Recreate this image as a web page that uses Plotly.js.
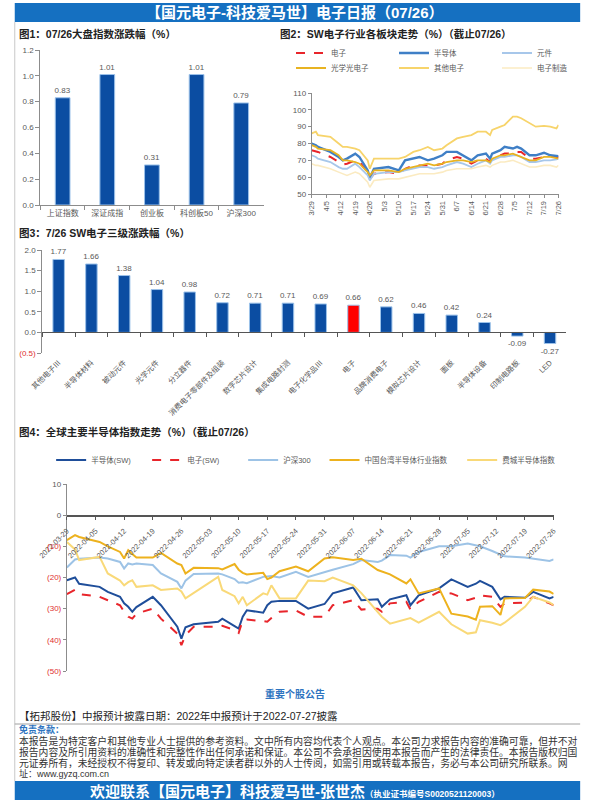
<!DOCTYPE html>
<html><head><meta charset="utf-8">
<script src="https://cdn.plot.ly/plotly-3.0.1.min.js"></script>
<style>html,body{margin:0;padding:0;background:#fff;} #chart{width:600px;height:800px;}</style>
</head><body><div id="chart"></div>
<script>
// ---------- DATA ----------
const fig1Categories = ['上证指数','深证成指','创业板','科创板50','沪深300'];
const fig1Values = [0.83, 1.01, 0.31, 1.01, 0.79];

const fig2Dates = ['2022-03-29','2022-03-31','2022-04-01','2022-04-07','2022-04-11','2022-04-13','2022-04-15','2022-04-19','2022-04-21','2022-04-25','2022-04-26','2022-04-28','2022-05-05','2022-05-10','2022-05-13','2022-05-17','2022-05-20','2022-05-24','2022-05-27','2022-05-31','2022-06-02','2022-06-07','2022-06-10','2022-06-14','2022-06-17','2022-06-21','2022-06-23','2022-06-24','2022-06-28','2022-06-30','2022-07-04','2022-07-06','2022-07-08','2022-07-12','2022-07-15','2022-07-19','2022-07-22','2022-07-25','2022-07-26'];
const fig2Names = ['电子','半导体','元件','光学光电子','其他电子','电子制造'];
const fig2Electronics = [76,75.5,75,72,69,67.5,68,70,69,63,59,62,63,62,65,67,67,67,67,68,70,72,71,68,70,71,69,71,73,74,74,75,75,71,71,72,72,72,72];
const fig2Semis = [80,79,78,75,72,70,71,74,72,64,59.5,65,66,64,70,71,72,70,71,73,75,75,73,70,73,74,71,74,76,78,77,78,77,73,73,74.5,73,72.5,72.5];
const fig2Components = [73,72,71,69,66,65,65,68,66,61,58,62,63,63,64,65,66,66,65,66,67,69,68,66,68,70,68,70,72,72,73,73,72,69,69,70,70,70.5,71];
const fig2Optical = [79,78,77,76,73,70,70,69,68,63,61,64,64,63,65,66,67,68,67,68,69,70,70,69,70,70,69,71,73,73,74,73,72,70,70,72,72,71,71];
const fig2Other = [86,87,85,84,80,78,78,77,76,70,65,71,71,71,72,75,76,78,76,77,79,83,84,85,87,87,85,88,90,91,96,96,95,92,90,90.5,90,89,91];
const fig2Manufacturing = [68,67,67,65,63,62,61,63,62,57,54,58,59,59,60,61,62,62,62,63,64,65,65,65,66,67,66,67,69,69,70,69,68,66,66,67,67,66,67];

const fig3Categories = ['其他电子Ⅲ','半导体材料','被动元件','光学元件','分立器件','消费电子零部件及组装','数字芯片设计','集成电路封测','电子化学品Ⅲ','电子','品牌消费电子','模拟芯片设计','面板','半导体设备','印制电路板','LED'];
const fig3Values = [1.77,1.66,1.38,1.04,0.98,0.72,0.71,0.71,0.69,0.66,0.62,0.46,0.42,0.24,-0.09,-0.27];
const fig3TickVals = [-0.5,0,0.5,1.0,1.5,2.0];
const fig3TickLabels = ['(0.5)','0.0','0.5','1.0','1.5','2.0'];

const fig4Dates = ['2022-03-29','2022-03-31','2022-04-01','2022-04-06','2022-04-08','2022-04-11','2022-04-12','2022-04-13','2022-04-14','2022-04-15','2022-04-19','2022-04-21','2022-04-25','2022-04-26','2022-04-27','2022-04-29','2022-05-05','2022-05-06','2022-05-09','2022-05-10','2022-05-11','2022-05-12','2022-05-16','2022-05-17','2022-05-18','2022-05-20','2022-05-24','2022-05-27','2022-05-31','2022-06-02','2022-06-07','2022-06-09','2022-06-13','2022-06-14','2022-06-16','2022-06-20','2022-06-21','2022-06-23','2022-06-28','2022-07-01','2022-07-05','2022-07-07','2022-07-08','2022-07-11','2022-07-13','2022-07-14','2022-07-19','2022-07-21','2022-07-25','2022-07-26'];
const fig4Names = ['半导体(SW)','电子(SW)','沪深300','中国台湾半导体行业指数','费城半导体指数'];
const fig4Semis = [-20.9,-20,-22,-23,-24.6,-26.2,-28.3,-29.4,-31,-29.5,-26.2,-28.9,-35.8,-39.6,-36,-35,-34.2,-33.2,-35.6,-36.4,-32.6,-30.5,-31.3,-28.9,-27.8,-27.5,-27.5,-30,-28.5,-25.1,-23.2,-27.3,-27,-29.4,-27,-25.7,-28.9,-25.7,-23.5,-20.6,-23,-22,-21.1,-23,-27,-26.2,-26.5,-24.6,-26.7,-26.2];
const fig4Electronics = [-25.3,-23.9,-25.3,-26.2,-27.3,-28.9,-31,-32.6,-33.2,-31.6,-30,-33.2,-38,-41.7,-38.5,-35.8,-35.8,-35.5,-36.9,-37.8,-33.7,-33.5,-34,-34.2,-33,-31,-30.6,-32.6,-32.6,-28.9,-27.3,-30.3,-30,-31,-28.3,-27.8,-30.3,-27.8,-24.6,-25.1,-27.3,-26.5,-25.7,-26.2,-29.4,-28.3,-28.1,-26.2,-28.3,-28.9];
const fig4CSI300 = [-16.8,-14.2,-14,-13.6,-13.9,-15,-17.1,-15.5,-15.8,-15.5,-16,-18.7,-21.4,-23.5,-21,-18.9,-18.7,-19,-20.5,-21.7,-21.5,-21.8,-19.8,-19.6,-19.5,-20,-18.2,-19.8,-18.2,-17.5,-15.7,-14.4,-15,-14.6,-12.8,-13,-13.6,-11.8,-10,-10,-9.1,-9.6,-10,-11.5,-12.8,-13.2,-13.6,-14,-14.7,-14.2];
const fig4Taiwan = [-8,-6.4,-7,-8.6,-10,-11.8,-13.9,-11.2,-12.5,-13.6,-13.6,-12.1,-15.5,-16,-18.7,-16.9,-17,-17.4,-15.7,-17.5,-18.5,-19,-18.5,-20.5,-20,-18,-16.5,-18,-13.9,-13.5,-14.4,-14,-17.6,-18,-19,-21.9,-20.6,-25.1,-23.5,-31.6,-32.5,-33.5,-29.4,-29.2,-32,-26.7,-26.6,-23.9,-24.5,-25.3];
const fig4Phlx = [-8.6,-11,-14.4,-13.4,-18.7,-21,-22.5,-21.5,-20.9,-23,-22.5,-24,-23.5,-24.5,-26.7,-25,-19.8,-24,-26,-28.3,-26.2,-28.9,-25.1,-25.5,-22.5,-26.7,-26.7,-21,-21.2,-20,-22.5,-25,-31,-32.6,-34.8,-33.5,-33,-34.5,-31,-35,-38,-37.6,-33.7,-34.5,-35.3,-34.5,-29.4,-26.2,-28,-28.9];
const fig4TickVals = [-50,-40,-30,-20,-10,0,10];
const fig4TickLabels = ['(50)','(40)','(30)','(20)','(10)','0','10'];

// ---------- HELPERS ----------
const W = 600, H = 800;
const fx = px => px / W;
const fy = py => 1 - py / H;
const GRAY = '#595959';
const AXIS = '#8C8C8C';
const BAR = '#0B4DA2';
const RED = '#E8252B';
const colorNeg = (vals, labels) => labels.map((t, i) => vals[i] < 0 ? `<span style="color:#E03030">${t}</span>` : t);

const tickFont = {size: 8, color: GRAY};

// ---------- TRACES ----------
const traces = [];
traces.push({type:'bar', x: fig1Categories, y: fig1Values, xaxis:'x', yaxis:'y',
  marker:{color:BAR, line:{color:'#9CC2EA', width:1}}, width:0.33,
  text: fig1Values.map(v => v.toFixed(2)), textposition:'outside', cliponaxis:false, constraintext:'none',
  textfont:{size:8, color:GRAY}, showlegend:false, hoverinfo:'skip'});

const fig2Series = [fig2Electronics, fig2Semis, fig2Components, fig2Optical, fig2Other, fig2Manufacturing];
const fig2Styles = [
  {color:RED, width:2, dash:'dash'},
  {color:'#3F7FC6', width:2.4},
  {color:'#A7C7EA', width:1.8},
  {color:'#E8B321', width:1.8},
  {color:'#F7D46B', width:1.8},
  {color:'#FBEBC2', width:1.6}
];
fig2Series.forEach((s, i) => traces.push({type:'scatter', mode:'lines', x: fig2Dates, y: s, name: fig2Names[i],
  xaxis:'x2', yaxis:'y2', line: Object.assign({shape:'linear'}, fig2Styles[i]),
  legend: i < 3 ? 'legend' : 'legend2', hoverinfo:'skip'}));

traces.push({type:'bar', x: fig3Categories, y: fig3Values, xaxis:'x3', yaxis:'y3',
  marker:{color: fig3Categories.map(c => c === '电子' ? '#FF0000' : BAR), line:{color:'#9CC2EA', width:1}}, width:0.35,
  text: fig3Values.map(v => v.toFixed(2)), textposition:'outside', cliponaxis:false, constraintext:'none',
  textfont:{size:8, color:GRAY}, showlegend:false, hoverinfo:'skip'});

const fig4Series = [fig4Semis, fig4Electronics, fig4CSI300, fig4Taiwan, fig4Phlx];
const fig4Styles = [
  {color:'#1F4E9A', width:2},
  {color:RED, width:2, dash:'dash'},
  {color:'#9DC3E6', width:2},
  {color:'#EDB21E', width:2},
  {color:'#F9D978', width:2}
];
const fig4Legends = ['legend3','legend3','legend3','legend4','legend5'];
fig4Series.forEach((s, i) => traces.push({type:'scatter', mode:'lines', x: fig4Dates, y: s, name: fig4Names[i],
  xaxis:'x4', yaxis:'y4', line: fig4Styles[i],
  legend: fig4Legends[i], hoverinfo:'skip'}));

// ---------- LAYOUT ----------
const legendBase = {orientation:'h', xanchor:'left', yanchor:'middle', bgcolor:'rgba(0,0,0,0)',
  font:{size:7.5, color:GRAY}, itemwidth:30, traceorder:'normal', borderwidth:0};

const ann = [];
const addText = (px, py, text, opts) => ann.push(Object.assign({xref:'paper', yref:'paper', x: fx(px), y: fy(py),
  text: text, showarrow:false, xanchor:'left', yanchor:'middle', font:{size:10, color:'#222'}}, opts || {}));

addText(300, 12.5, '<b>【国元电子-科技爱马世】电子日报（07/26）</b>', {xanchor:'center', font:{size:15, color:'#fff'}});
addText(17, 34, '<b>图1：07/26大盘指数涨跌幅（%）</b>', {font:{size:10.5, color:'#222'}});
addText(283, 34, '<b>图2：SW电子行业各板块走势（%）（截止07/26）</b>', {font:{size:10.5, color:'#222'}});
addText(17, 233, '<b>图3：7/26 SW电子三级涨跌幅（%）</b>', {font:{size:10.5, color:'#222'}});
addText(17, 432, '<b>图4：全球主要半导体指数走势（%）（截止07/26）</b>', {font:{size:10.5, color:'#222'}});
addText(300, 694, '<b>重要个股公告</b>', {xanchor:'center', font:{size:10, color:'#2E74C0'}});
addText(17, 716, '【拓邦股份】中报预计披露日期：2022年中报预计于2022-07-27披露', {font:{size:10.5, color:'#222'}});
addText(17, 729, '<b>免责条款：</b>', {font:{size:9, color:'#2E74C0'}});
addText(17, 741, '本报告是为特定客户和其他专业人士提供的参考资料。文中所有内容均代表个人观点。本公司力求报告内容的准确可靠，但并不对', {font:{size:9.8, color:'#333'}});
addText(17, 752, '报告内容及所引用资料的准确性和完整性作出任何承诺和保证。本公司不会承担因使用本报告而产生的法律责任。本报告版权归国', {font:{size:9.8, color:'#333'}});
addText(17, 763, '元证券所有，未经授权不得复印、转发或向特定读者群以外的人士传阅，如需引用或转载本报告，务必与本公司研究所联系。网', {font:{size:9.8, color:'#333'}});
addText(17, 773, '址：www.gyzq.com.cn', {font:{size:9, color:'#333'}});
addText(300, 791, '<b>欢迎联系【国元电子】科技爱马世-张世杰<span style="font-size:8.5px">（执业证书编号S0020521120003）</span></b>', {xanchor:'center', font:{size:15, color:'#fff'}});

const shapes = [
  {type:'rect', xref:'paper', yref:'paper', x0:fx(15), x1:fx(590), y0:fy(22), y1:fy(3), fillcolor:'#1570C1', line:{width:0}, layer:'below'},
  {type:'rect', xref:'paper', yref:'paper', x0:fx(15), x1:fx(590), y0:fy(800), y1:fy(781), fillcolor:'#1570C1', line:{width:0}, layer:'below'},
  {type:'line', xref:'paper', yref:'paper', x0:fx(15), x1:fx(15), y0:fy(781), y1:fy(22), line:{color:'#C8C8C8', width:1}},
  {type:'line', xref:'paper', yref:'paper', x0:fx(15), x1:fx(590), y0:fy(724), y1:fy(724), line:{color:'#A0A0A0', width:1}}
];

const f3Zero = fy(353) + (0 - (-0.5)) / 2.5 * (fy(250) - fy(353));
const f4Zero = fy(671) + (0 - (-50)) / 60 * (fy(484) - fy(671));

const layout = {
  width: W, height: H, margin:{l:0, r:0, t:0, b:0},
  paper_bgcolor:'#fff', plot_bgcolor:'rgba(0,0,0,0)',
  font:{family:'"Liberation Sans", "Noto Sans CJK SC", sans-serif', color:GRAY},
  showlegend:true,
  xaxis:{domain:[fx(41), fx(268)], anchor:'y', type:'category', range:[-0.5,4.5], showline:true, linecolor:AXIS,
    ticks:'outside', tickson:'boundaries', ticklen:4, tickcolor:AXIS, tickfont:tickFont, showgrid:false, fixedrange:true},
  yaxis:{domain:[fy(205), fy(50)], anchor:'x', range:[0,1.2], dtick:0.2, tickformat:'.1f', showline:true, linecolor:AXIS,
    ticks:'outside', ticklen:4, tickcolor:AXIS, tickfont:tickFont, showgrid:false, zeroline:false},
  xaxis2:{domain:[fx(317), fx(568)], anchor:'y2', type:'date', range:['2022-03-29','2022-07-26'], tick0:'2022-03-29',
    dtick:7*86400000, tickformat:'%-m/%-d', tickangle:-90, showline:true, linecolor:AXIS, ticks:'outside', ticklen:3,
    tickcolor:AXIS, tickfont:{size:7.5, color:GRAY}, showgrid:false},
  yaxis2:{domain:[fy(194), fy(93)], anchor:'x2', range:[50,110], dtick:10, showline:true, linecolor:AXIS,
    ticks:'outside', ticklen:3, tickcolor:AXIS, tickfont:tickFont, showgrid:false, zeroline:false},
  xaxis3:{domain:[fx(43), fx(576)], anchor:'free', position:f3Zero, type:'category', range:[-0.5,15.5], showline:true,
    linecolor:'#555', ticks:'outside', tickson:'boundaries', ticklen:4, tickcolor:'#555', tickangle:-45,
    ticklabelstandoff:22, tickfont:{size:7.5, color:GRAY}, showgrid:false},
  yaxis3:{domain:[fy(353), fy(250)], anchor:'x3', range:[-0.5,2.0], tickvals:fig3TickVals,
    ticktext:colorNeg(fig3TickVals, fig3TickLabels), showline:true, linecolor:AXIS, ticks:'outside', ticklen:4,
    tickcolor:AXIS, tickfont:{size:8, color:GRAY}, showgrid:false, zeroline:false},
  xaxis4:{domain:[fx(68), fx(563)], anchor:'free', position:f4Zero, type:'date', range:['2022-03-29','2022-07-26'],
    tick0:'2022-03-29', dtick:7*86400000, tickformat:'%Y-%m-%d', tickangle:-45, ticklabelstandoff:4,
    showline:true, linecolor:'#555', linewidth:1.5, ticks:'outside', ticklen:3, tickcolor:'#555',
    tickfont:{size:7.5, color:GRAY}, showgrid:false},
  yaxis4:{domain:[fy(671), fy(484)], anchor:'x4', range:[-50,10], tickvals:fig4TickVals,
    ticktext:colorNeg(fig4TickVals, fig4TickLabels), showline:true, linecolor:AXIS, ticks:'outside', ticklen:3,
    tickcolor:AXIS, tickfont:{size:8, color:GRAY}, showgrid:false, zeroline:false},
  legend: Object.assign({}, legendBase, {x: fx(296), y: fy(53), entrywidth:58}),
  legend2: Object.assign({}, legendBase, {x: fx(296), y: fy(68), entrywidth:58}),
  legend3: Object.assign({}, legendBase, {x: fx(52), y: fy(460), entrywidth:51}),
  legend4: Object.assign({}, legendBase, {x: fx(330), y: fy(460)}),
  legend5: Object.assign({}, legendBase, {x: fx(470), y: fy(460)}),
  annotations: ann,
  shapes: shapes
};

Plotly.newPlot('chart', traces, layout, {staticPlot:true, displayModeBar:false});
</script>
</body></html>
